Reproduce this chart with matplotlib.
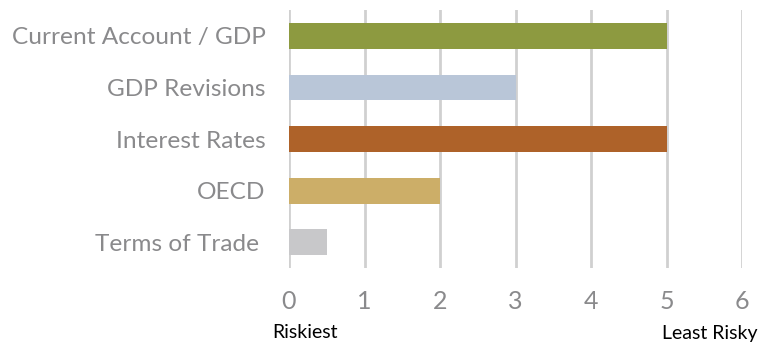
import matplotlib
matplotlib.use("Agg")
import matplotlib.pyplot as plt

categories = ["Current Account / GDP", "GDP Revisions", "Interest Rates", "OECD", "Terms of Trade "]
scores = [5, 3, 5, 2, 0.5]
colors = ["#8d9a40", "#b9c6d8", "#ae6229", "#ccae68", "#c8c8ca"]
xticks = [0, 1, 2, 3, 4, 5, 6]

plt.rcParams["font.family"] = ["Lato", "DejaVu Sans"]

fig = plt.figure(figsize=(7.63, 3.45), dpi=100)
ax = fig.add_axes([289 / 763, 1 - 268 / 345, (742 - 289) / 763, 258 / 345])

ypos = list(range(len(categories)))
ax.barh(ypos, scores, height=0.5, color=colors, zorder=3)
ax.set_ylim(len(categories) - 0.5, -0.5)
ax.set_xlim(0, 6)
ax.set_xticks(xticks)
ax.set_yticks(ypos)
ax.set_yticklabels(categories)

ax.grid(axis="x", color="#d0d0d0", linewidth=2, zorder=0)
for s in ax.spines.values():
    s.set_visible(False)
ax.tick_params(axis="both", length=0, labelsize=18, labelcolor="#8a8a8c")
ax.tick_params(axis="y", pad=17, labelsize=17.6)
ax.tick_params(axis="x", pad=16)

fig.text(272 / 763, 1 - 333 / 345, "Riskiest", fontsize=14, color="black", va="center", ha="left")
fig.text(758 / 763, 1 - 333 / 345, "Least Risky", fontsize=14, color="black", va="center", ha="right")

fig.savefig("out.png", dpi=100)
